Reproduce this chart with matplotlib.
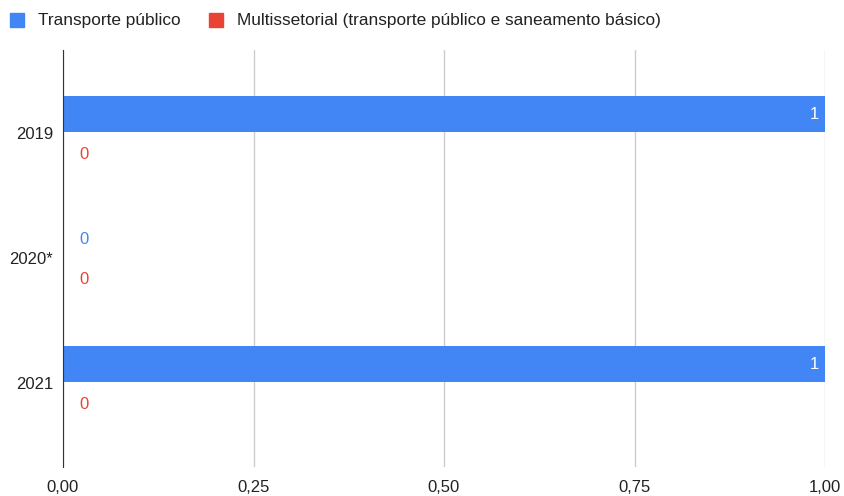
import matplotlib.pyplot as plt
from matplotlib.patches import Rectangle

plt.rcParams['font.family'] = ['Liberation Sans', 'DejaVu Sans']

anos = ['2019', '2020*', '2021']
transporte = [1, 0, 1]
multissetorial = [0, 0, 0]
series = ['Transporte público', 'Multissetorial (transporte público e saneamento básico)']
cores = ['#4285F4', '#EA4335']
xticks = [0, 0.25, 0.5, 0.75, 1.0]

fig = plt.figure(figsize=(8.44, 4.96), dpi=100)
ax = fig.add_axes([63/844, 1 - 467/496, 762/844, 417/496])

pos = list(range(len(anos)))
h = 0.29
off_a = -0.15
off_b = 0.17
ax.barh([p + off_a for p in pos], transporte, height=h, color=cores[0], zorder=3)
ax.barh([p + off_b for p in pos], multissetorial, height=h, color=cores[1], zorder=3)

# rótulos de dados
for vals, off, cor in [(transporte, off_a, cores[0]), (multissetorial, off_b, cores[1])]:
    for p, v in zip(pos, vals):
        if v > 0:
            ax.text(v - 0.008, p + off, str(v), color='white', ha='right', va='center', fontsize=12, zorder=4)
        else:
            ax.text(0.022, p + off, str(v), color=cor, ha='left', va='center', fontsize=12, zorder=4)

ax.set_xlim(0, 1.0)
ax.set_ylim(2.672, -0.664)
ax.set_yticks(pos)
ax.set_yticklabels(anos, fontsize=12, color='#222222')
ax.set_xticks(xticks)
ax.set_xticklabels([f'{t:.2f}'.replace('.', ',') for t in xticks], fontsize=12, color='#222222')
ax.tick_params(axis='y', length=0, pad=7)
ax.tick_params(axis='x', length=0, pad=9)
ax.grid(axis='x', color='#cccccc', linewidth=1, zorder=0)
for s in ['top', 'right', 'bottom']:
    ax.spines[s].set_visible(False)
ax.spines['left'].set_color('#333333')
ax.spines['left'].set_zorder(5)

# legenda
fig.patches.append(Rectangle((10/844, 1 - 27/496), 14/844, 14/496, transform=fig.transFigure,
                             color=cores[0], figure=fig))
fig.text(38/844, 1 - 20/496, series[0], fontsize=12.4, va='center', color='#222222')
fig.patches.append(Rectangle((209/844, 1 - 27/496), 14/844, 14/496, transform=fig.transFigure,
                             color=cores[1], figure=fig))
fig.text(237/844, 1 - 20/496, series[1], fontsize=12.4, va='center', color='#222222')

fig.savefig('out.png', dpi=100)
